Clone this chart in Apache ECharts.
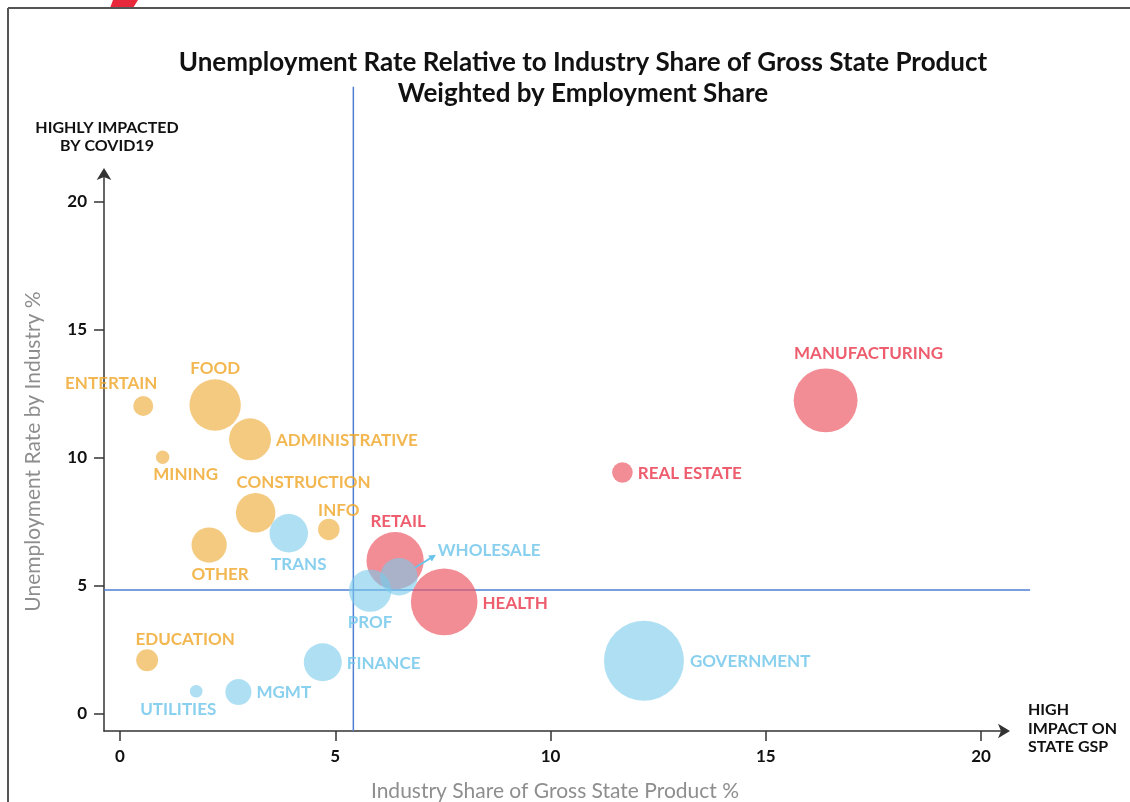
<!DOCTYPE html>
<html>
<head>
<meta charset="utf-8">
<title>Unemployment Rate Relative to Industry Share of Gross State Product</title>
<script src="https://cdn.jsdelivr.net/npm/echarts@6/dist/echarts.min.js"></script>
<style>
  html, body { margin: 0; padding: 0; background: #fff; }
  #chart { width: 1130px; height: 802px; }
</style>
</head>
<body>
<div id="chart"></div>
<script>
// Industries, plotted by share of gross state product (x), unemployment rate (y)
// and bubble area by share of employment.
const industries = ['ENTERTAIN', 'FOOD', 'ADMINISTRATIVE', 'MINING', 'CONSTRUCTION', 'INFO', 'OTHER', 'EDUCATION',
  'TRANS', 'WHOLESALE', 'PROF', 'FINANCE', 'UTILITIES', 'MGMT', 'GOVERNMENT',
  'RETAIL', 'HEALTH', 'REAL ESTATE', 'MANUFACTURING'];
const gspShare = [0.54, 2.21, 3.02, 0.99, 3.15, 4.85, 2.07, 0.63,
  3.92, 6.48, 5.81, 4.71, 1.77, 2.75, 12.17,
  6.39, 7.53, 11.67, 16.39];
const unemploymentRate = [12.03, 12.07, 10.73, 10.03, 7.86, 7.21, 6.60, 2.10,
  7.06, 5.36, 4.82, 2.02, 0.89, 0.86, 2.08,
  5.99, 4.38, 9.43, 12.25];
const employmentShare = [1.0, 6.6, 4.4, 0.45, 3.9, 1.15, 3.1, 1.2,
  3.7, 3.5, 4.5, 3.6, 0.4, 1.7, 16.0,
  8.2, 11.1, 1.06, 10.2];
const impactGroup = ['covid', 'covid', 'covid', 'covid', 'covid', 'covid', 'covid', 'covid',
  'low', 'low', 'low', 'low', 'low', 'low', 'low',
  'both', 'both', 'both', 'both'];

// Quadrant dividers and how far they run
const avgGspShare = 5.42;
const avgUnemployment = 4.84;
const dividerXEnd = 21.14;
const dividerYEnd = 24.5;

// Axis ticks
const tickValues = [0, 5, 10, 15, 20];

// Styling
const groupStyle = {
  covid: { fill: 'rgba(240,180,74,0.88)', text: '#EFA526' },
  both:  { fill: 'rgba(236,88,100,0.86)', text: '#E8354A' },
  low:   { fill: 'rgba(122,203,236,0.76)', text: '#6CC4EA' }
};
const labelPlacement = {
  'ENTERTAIN': ['top', -32, 1],
  'FOOD': ['top', 0, 3],
  'ADMINISTRATIVE': ['right', 0, 1],
  'MINING': ['bottom', 23, -3],
  'CONSTRUCTION': ['top', 48, 3],
  'INFO': ['top', 10, 5],
  'OTHER': ['bottom', 11, -2],
  'EDUCATION': ['top', 38, 4],
  'TRANS': ['bottom', 10, -1],
  'WHOLESALE': ['right', 15, -26],
  'PROF': ['bottom', 0, -3],
  'FINANCE': ['right', 0, 1],
  'UTILITIES': ['bottom', -18, -2],
  'MGMT': ['right', 0, 1],
  'GOVERNMENT': ['right', 1, 1],
  'RETAIL': ['top', 3, 3],
  'HEALTH': ['right', 0, 2],
  'REAL ESTATE': ['right', 0, 1],
  'MANUFACTURING': ['top', 43, -1]
};

const FONT = 'Lato, "Noto Sans", sans-serif';
const DIVIDER = '#4F7FD3';
const X_MIN = -0.372, X_MAX = 20.58;
const Y_MIN = -0.664, Y_MAX = 21.17;

function bubbleSeries(group) {
  const data = [];
  industries.forEach((name, i) => {
    if (impactGroup[i] !== group) return;
    const p = labelPlacement[name];
    data.push({
      name: name,
      value: [gspShare[i], unemploymentRate[i], employmentShare[i]],
      label: { position: p[0], offset: [p[1], p[2]] }
    });
  });
  return {
    type: 'scatter',
    name: group,
    data: data,
    symbolSize: v => 20 * Math.sqrt(v[2]),
    itemStyle: { color: groupStyle[group].fill },
    label: {
      show: true,
      formatter: '{b}',
      color: groupStyle[group].text,
      fontFamily: FONT,
      fontSize: 17,
      fontWeight: 'bold',
      distance: 5
    },
    emphasis: { disabled: true },
    z: group === 'low' ? 4 : 3
  };
}

const chart = echarts.init(document.getElementById('chart'), null, { renderer: 'canvas' });

const option = {
  animation: false,
  backgroundColor: '#fff',
  title: {
    text: 'Unemployment Rate Relative to Industry Share of Gross State Product\nWeighted by Employment Share',
    left: 578,
    top: 42,
    textAlign: 'center',
    textStyle: { fontFamily: FONT, fontSize: 26, fontWeight: 'bold', color: '#111', lineHeight: 31 }
  },
  grid: { left: 104, right: 124, top: 172, bottom: 71, outerBoundsMode: 'none', containLabel: false },
  xAxis: {
    type: 'value',
    min: X_MIN,
    max: X_MAX,
    name: 'Industry Share of Gross State Product %',
    nameLocation: 'middle',
    nameGap: 50,
    nameTextStyle: { fontFamily: FONT, fontSize: 21, color: '#8E8E8E' },
    splitLine: { show: false },
    axisLine: { show: true, onZero: false, lineStyle: { color: '#333', width: 1.5 }, symbol: ['none', 'arrow'], symbolSize: [11, 12], symbolOffset: [0, 4] },
    axisTick: { show: true, length: 10, customValues: tickValues, lineStyle: { color: '#333', width: 1.5 } },
    axisLabel: { customValues: tickValues, margin: 17, fontFamily: FONT, fontSize: 17, fontWeight: 'bold', color: '#111' }
  },
  yAxis: {
    type: 'value',
    min: Y_MIN,
    max: Y_MAX,
    name: 'Unemployment Rate by Industry %',
    nameLocation: 'middle',
    nameGap: 60,
    nameTextStyle: { fontFamily: FONT, fontSize: 21, color: '#8E8E8E' },
    splitLine: { show: false },
    axisLine: { show: true, onZero: false, lineStyle: { color: '#333', width: 1.5 }, symbol: ['none', 'arrow'], symbolSize: [11, 12], symbolOffset: [0, 4] },
    axisTick: { show: true, length: 10, customValues: tickValues, lineStyle: { color: '#333', width: 1.5 } },
    axisLabel: { customValues: tickValues, margin: 17, fontFamily: FONT, fontSize: 17, fontWeight: 'bold', color: '#111' }
  },
  series: [
    bubbleSeries('covid'),
    bubbleSeries('both'),
    bubbleSeries('low')
  ]
};
chart.setOption(option);

// Quadrant dividers, frame, corner notes and the WHOLESALE pointer
const px = v => chart.convertToPixel({ gridIndex: 0 }, v);
const vTop = px([avgGspShare, dividerYEnd]);
const vBot = px([avgGspShare, Y_MIN]);
const hLeft = px([X_MIN, avgUnemployment]);
const hRight = px([dividerXEnd, avgUnemployment]);

const wi = industries.indexOf('WHOLESALE');
const wp = px([gspShare[wi], unemploymentRate[wi]]);
const a0 = [wp[0] + 16, wp[1] - 9];
const a1 = [wp[0] + 37, wp[1] - 22];
const ang = Math.atan2(a1[1] - a0[1], a1[0] - a0[0]);
const head = [
  a1,
  [a1[0] - 7 * Math.cos(ang) + 3.5 * Math.sin(ang), a1[1] - 7 * Math.sin(ang) - 3.5 * Math.cos(ang)],
  [a1[0] - 7 * Math.cos(ang) - 3.5 * Math.sin(ang), a1[1] - 7 * Math.sin(ang) + 3.5 * Math.cos(ang)]
];

chart.setOption({
  graphic: [
    { type: 'line', shape: { x1: vTop[0], y1: vTop[1], x2: vBot[0], y2: vBot[1] }, style: { stroke: DIVIDER, lineWidth: 1.5 }, z: 1 },
    { type: 'line', shape: { x1: hLeft[0], y1: hLeft[1], x2: hRight[0], y2: hRight[1] }, style: { stroke: DIVIDER, lineWidth: 1.5 }, z: 1 },
    { type: 'polygon', shape: { points: [[113, 0], [138, 0], [133, 8], [110, 8]] }, style: { fill: '#E8293C' }, z: 10 },
    { type: 'line', shape: { x1: 8, y1: 8, x2: 1130, y2: 8 }, style: { stroke: '#555', lineWidth: 2 }, z: 11 },
    { type: 'line', shape: { x1: 8, y1: 8, x2: 8, y2: 802 }, style: { stroke: '#555', lineWidth: 2 }, z: 11 },
    {
      type: 'text', x: 107, y: 119, z: 10,
      style: { text: 'HIGHLY IMPACTED\nBY COVID19', textAlign: 'center', fill: '#111', font: 'bold 16px ' + FONT, lineHeight: 18 }
    },
    {
      type: 'text', x: 1028, y: 701, z: 10,
      style: { text: 'HIGH\nIMPACT ON\nSTATE GSP', textAlign: 'left', fill: '#111', font: 'bold 16px ' + FONT, lineHeight: 18.5 }
    },
    { type: 'line', shape: { x1: a0[0], y1: a0[1], x2: a1[0] - 4 * Math.cos(ang), y2: a1[1] - 4 * Math.sin(ang) }, style: { stroke: '#6CC4EA', lineWidth: 1.8 }, z: 10 },
    { type: 'polygon', shape: { points: head }, style: { fill: '#6CC4EA' }, z: 10 }
  ]
});
</script>
</body>
</html>
